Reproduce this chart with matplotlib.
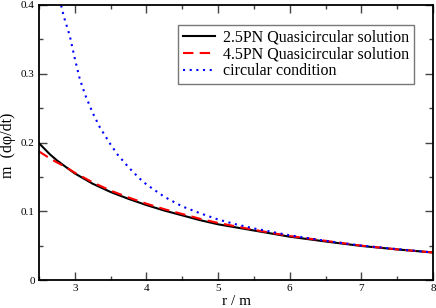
import matplotlib
matplotlib.use("Agg")
import matplotlib.pyplot as plt
from matplotlib.ticker import MultipleLocator

plt.rcParams['font.family'] = ['Liberation Serif', 'DejaVu Serif']
plt.rcParams['mathtext.fontset'] = 'stix'

r_pn25 = [2.5, 2.65, 2.75, 2.88, 3.0, 3.25, 3.5, 3.75, 4.0, 4.25, 4.5, 4.75, 5.0, 5.5, 6.0, 6.5, 7.0, 7.5, 8.0]
w_pn25 = [0.199, 0.183, 0.174, 0.164, 0.155, 0.140, 0.128, 0.118, 0.109, 0.101, 0.094, 0.087, 0.081, 0.072, 0.063, 0.056, 0.0495, 0.0445, 0.040]

r_pn45 = [2.5, 2.65, 2.75, 2.88, 3.0, 3.25, 3.5, 3.75, 4.0, 4.25, 4.5, 4.75, 5.0, 5.5, 6.0, 6.5, 7.0, 7.5, 8.0]
w_pn45 = [0.187, 0.177, 0.171, 0.164, 0.156, 0.142, 0.130, 0.120, 0.111, 0.103, 0.096, 0.089, 0.083, 0.073, 0.064, 0.057, 0.050, 0.0445, 0.040]

r_circ = [2.76, 2.85, 2.93, 3.0, 3.07, 3.15, 3.25, 3.35, 3.5, 3.6, 3.75, 3.9, 4.0, 4.25, 4.5, 4.75, 5.0, 5.25, 5.5, 6.0, 6.5, 7.0, 7.5, 8.0]
w_circ = [0.42, 0.382, 0.355, 0.322, 0.292, 0.268, 0.243, 0.222, 0.197, 0.182, 0.164, 0.148, 0.139, 0.121, 0.107, 0.097, 0.088, 0.081, 0.075, 0.065, 0.057, 0.050, 0.045, 0.040]

labels = ["2.5PN Quasicircular solution", "4.5PN Quasicircular solution", "circular condition"]

fig = plt.figure(figsize=(4.36, 3.08), dpi=100)
ax = fig.add_axes([39/436, 28/308, 394/436, 275/308])

ax.plot(r_pn25, w_pn25, color='black', lw=1.5, label=labels[0])
ax.plot(r_pn45, w_pn45, color='#ff0000', lw=1.5, ls=(0, (5, 3)), label=labels[1])
ax.plot(r_circ, w_circ, color='#0000ff', lw=1.5, ls=(0, (1, 2.2)), label=labels[2])

ax.set_xlim(2.5, 8)
ax.set_ylim(0, 0.4)
ax.xaxis.set_minor_locator(MultipleLocator(0.5))
ax.yaxis.set_minor_locator(MultipleLocator(0.05))
ax.set_xticks([3, 4, 5, 6, 7, 8])
ax.set_xticklabels(['3', '4', '5', '6', '7', '8'])
ax.set_yticks([0, 0.1, 0.2, 0.3, 0.4])
ax.set_yticklabels(['0', '0.1', '0.2', '0.3', '0.4'])
ax.tick_params(which='both', direction='in', top=True, right=True, labelsize=8, pad=3, width=1, color='#444444')
ax.tick_params(which='major', length=5.5)
ax.tick_params(which='minor', length=3)
for s in ax.spines.values():
    s.set_linewidth(1.3)

ax.set_xlabel('r / m', fontsize=11, labelpad=1.5)
ax.set_ylabel('m  (d\u03c6/dt)', fontsize=11.5)
ax.yaxis.set_label_coords(-0.058, 0.49)

leg = ax.legend(loc='upper right', bbox_to_anchor=((414-39)/394, (280-25)/275), fontsize=11.5, frameon=True,
                fancybox=False, edgecolor='#777777', framealpha=1, borderpad=0.3, labelspacing=0.05,
                handlelength=2.0, handletextpad=0.5, borderaxespad=0.0)
leg.get_frame().set_linewidth(1.0)

fig.savefig('out.png', dpi=100)
